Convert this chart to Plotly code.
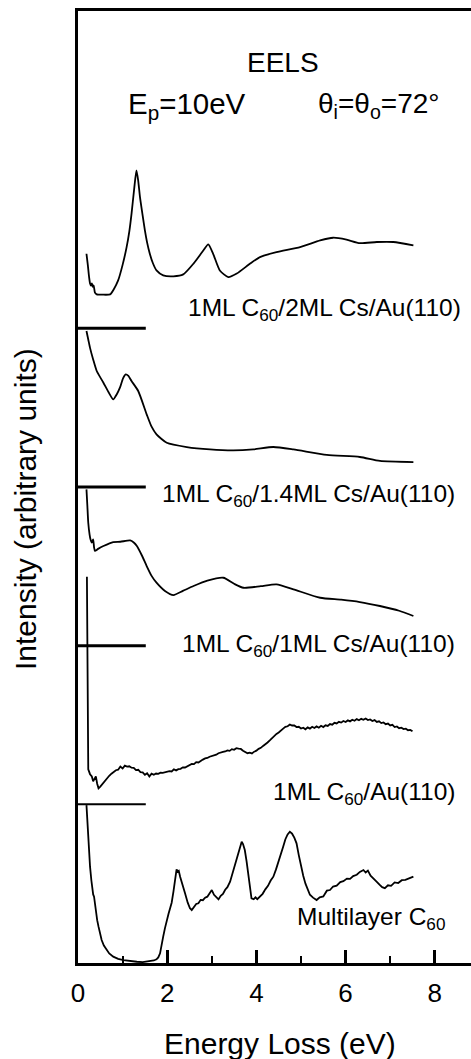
import plotly.graph_objects as go

# ---------------- data ----------------
# Energy loss (eV) and intensity relative to each spectrum's own baseline
# (one baseline step = 1 unit)
e_cs2 = [0.19, 0.22, 0.25, 0.27, 0.29, 0.31, 0.33, 0.35, 0.38, 0.42, 0.55, 0.72, 0.80, 0.90,
         1.00, 1.09, 1.15, 1.20, 1.26, 1.31, 1.35, 1.39, 1.45, 1.50, 1.55, 1.61, 1.68, 1.76,
         1.91, 2.14, 2.36, 2.59, 2.81, 2.92, 3.03, 3.18, 3.37, 3.56, 3.86, 4.08, 4.45, 4.98,
         5.43, 5.72, 6.02, 6.32, 6.70, 7.07, 7.52]
i_cs2 = [0.47, 0.40, 0.32, 0.283, 0.27, 0.283, 0.262, 0.27, 0.225, 0.214, 0.212, 0.214, 0.245, 0.302,
         0.40, 0.512, 0.61, 0.722, 0.88, 0.995, 0.93, 0.827, 0.71, 0.617, 0.54, 0.47, 0.41, 0.365,
         0.334, 0.328, 0.34, 0.408, 0.491, 0.529, 0.47, 0.365, 0.323, 0.345, 0.408, 0.449, 0.48, 0.512,
         0.554, 0.571, 0.559, 0.537, 0.544, 0.544, 0.523]

e_cs14 = [0.19, 0.23, 0.27, 0.34, 0.42, 0.57, 0.70, 0.79, 0.87, 0.94, 1.01, 1.07, 1.13, 1.20,
          1.35, 1.54, 1.65, 1.76, 1.99, 2.44, 2.96, 3.48, 3.93, 4.38, 4.83, 5.58, 6.32, 6.77, 7.52]
i_cs14 = [0.983, 0.93, 0.877, 0.804, 0.731, 0.657, 0.59, 0.552, 0.585, 0.626, 0.685, 0.71, 0.70, 0.668,
          0.605, 0.458, 0.38, 0.332, 0.279, 0.252, 0.237, 0.231, 0.237, 0.252, 0.237, 0.202, 0.189, 0.164, 0.157]

e_cs1 = [0.19, 0.21, 0.23, 0.26, 0.28, 0.31, 0.34, 0.36, 0.38, 0.45, 0.57, 0.79, 0.95, 1.17,
         1.25, 1.32, 1.43, 1.54, 1.65, 1.76, 1.95, 2.14, 2.35, 2.59, 2.90, 3.26, 3.50, 3.71,
         4.10, 4.45, 4.83, 5.43, 5.90, 6.32, 6.77, 7.20, 7.52]
i_cs1 = [0.985, 0.88, 0.775, 0.70, 0.67, 0.649, 0.67, 0.62, 0.597, 0.61, 0.628, 0.653, 0.655, 0.663,
         0.65, 0.628, 0.57, 0.502, 0.44, 0.397, 0.345, 0.319, 0.345, 0.376, 0.41, 0.428, 0.39, 0.365,
         0.375, 0.386, 0.355, 0.302, 0.29, 0.275, 0.25, 0.22, 0.187]

e_au = [0.20, 0.215, 0.23, 0.27, 0.31, 0.34, 0.37, 0.40, 0.43, 0.46,
        0.50, 0.55, 0.60, 0.65, 0.70, 0.75, 0.80, 0.85, 0.90, 0.95, 1.00, 1.05, 1.10, 1.15, 1.20,
        1.25, 1.30, 1.35, 1.40, 1.45, 1.50, 1.55, 1.60, 1.65, 1.70, 1.75, 1.80, 1.85, 1.90, 1.95,
        2.00, 2.05, 2.10, 2.15, 2.20, 2.25, 2.30, 2.35, 2.40, 2.45, 2.50, 2.55, 2.60, 2.65, 2.70,
        2.75, 2.80, 2.85, 2.90, 2.95, 3.00, 3.05, 3.10, 3.15, 3.20, 3.25, 3.30, 3.35, 3.40, 3.45,
        3.50, 3.55, 3.60, 3.65, 3.70, 3.75, 3.80, 3.85, 3.90, 3.95, 4.00, 4.05, 4.10, 4.15, 4.20,
        4.25, 4.30, 4.35, 4.40, 4.45, 4.50, 4.55, 4.60, 4.65, 4.70, 4.75, 4.80, 4.85, 4.90, 4.95,
        5.00, 5.05, 5.10, 5.15, 5.20, 5.25, 5.30, 5.35, 5.40, 5.45, 5.50, 5.55, 5.60, 5.65, 5.70,
        5.75, 5.80, 5.85, 5.90, 5.95, 6.00, 6.05, 6.10, 6.15, 6.20, 6.25, 6.30, 6.35, 6.40, 6.45,
        6.50, 6.55, 6.60, 6.65, 6.70, 6.75, 6.80, 6.85, 6.90, 6.95, 7.00, 7.05, 7.10, 7.15, 7.20,
        7.25, 7.30, 7.35, 7.40, 7.45, 7.50]
i_au = [1.434, 0.80, 0.22, 0.19, 0.176, 0.145, 0.16, 0.176, 0.13, 0.101,
        0.112, 0.131, 0.149, 0.166, 0.180, 0.193, 0.203, 0.215, 0.218, 0.238, 0.226, 0.244, 0.238, 0.240, 0.231,
        0.230, 0.216, 0.218, 0.203, 0.201, 0.186, 0.196, 0.176, 0.193, 0.186, 0.194, 0.192, 0.200, 0.198, 0.203,
        0.204, 0.209, 0.207, 0.220, 0.214, 0.222, 0.224, 0.233, 0.232, 0.240, 0.247, 0.254, 0.253, 0.266, 0.264,
        0.276, 0.282, 0.289, 0.292, 0.300, 0.304, 0.312, 0.313, 0.322, 0.324, 0.330, 0.333, 0.340, 0.337, 0.348,
        0.344, 0.354, 0.351, 0.349, 0.338, 0.332, 0.322, 0.326, 0.321, 0.332, 0.338, 0.350, 0.356, 0.368, 0.377,
        0.390, 0.403, 0.418, 0.428, 0.444, 0.453, 0.468, 0.477, 0.488, 0.492, 0.503, 0.497, 0.497, 0.487, 0.489,
        0.478, 0.483, 0.473, 0.485, 0.477, 0.489, 0.481, 0.491, 0.483, 0.495, 0.487, 0.498, 0.494, 0.506, 0.502,
        0.514, 0.510, 0.520, 0.515, 0.525, 0.519, 0.529, 0.523, 0.533, 0.527, 0.537, 0.530, 0.539, 0.533, 0.541,
        0.531, 0.535, 0.525, 0.531, 0.519, 0.523, 0.512, 0.516, 0.505, 0.509, 0.497, 0.501, 0.487, 0.491, 0.480,
        0.483, 0.474, 0.477, 0.467, 0.469, 0.460]

e_ml = [0.19, 0.21, 0.23, 0.25, 0.27, 0.30, 0.32, 0.33, 0.34, 0.36, 0.38, 0.40, 0.43, 0.46, 0.50,
        0.53, 0.58, 0.64, 0.70, 0.79, 0.90, 1.02, 1.15, 1.32, 1.45, 1.55, 1.61, 1.70, 1.76, 1.80,
        1.84, 1.88, 1.91, 1.95, 1.99, 2.03, 2.07, 2.10, 2.14, 2.18, 2.21, 2.24, 2.26, 2.29, 2.34,
        2.40, 2.46, 2.51, 2.55, 2.60, 2.65, 2.70, 2.75, 2.80, 2.85, 2.90, 2.95, 3.00, 3.05, 3.10,
        3.15, 3.20, 3.25, 3.30, 3.35, 3.41, 3.46, 3.51, 3.56, 3.62, 3.67, 3.70, 3.74, 3.78, 3.82,
        3.86, 3.89, 3.94, 3.98, 4.02, 4.08, 4.14, 4.20, 4.26, 4.32, 4.38, 4.44, 4.50, 4.55, 4.60,
        4.65, 4.70, 4.75, 4.80, 4.85, 4.90, 4.95, 5.00, 5.05, 5.10, 5.13, 5.20, 5.27, 5.35, 5.42,
        5.50, 5.58, 5.65, 5.72, 5.80, 5.88, 5.95, 6.03, 6.10, 6.17, 6.25, 6.32, 6.40, 6.45, 6.50,
        6.56, 6.62, 6.70, 6.76, 6.82, 6.88, 6.95, 7.02, 7.10, 7.18, 7.26, 7.34, 7.42, 7.52]
i_ml = [0.995, 0.88, 0.775, 0.69, 0.607, 0.52, 0.465, 0.45, 0.432, 0.418, 0.37, 0.313, 0.27, 0.229, 0.18,
        0.145, 0.11, 0.082, 0.06, 0.04, 0.026, 0.018, 0.012, 0.008, 0.006, 0.010, 0.008, 0.016, 0.023, 0.035,
        0.061, 0.11, 0.166, 0.22, 0.271, 0.31, 0.35, 0.38, 0.45, 0.55, 0.59, 0.575, 0.58, 0.544, 0.49,
        0.439, 0.38, 0.345, 0.334, 0.352, 0.372, 0.376, 0.398, 0.396, 0.412, 0.418, 0.44, 0.46, 0.43, 0.414,
        0.401, 0.424, 0.436, 0.462, 0.478, 0.512, 0.56, 0.60, 0.649, 0.72, 0.764, 0.75, 0.712, 0.64, 0.565,
        0.48, 0.408, 0.402, 0.414, 0.402, 0.418, 0.436, 0.464, 0.486, 0.52, 0.544, 0.59, 0.65, 0.70, 0.733,
        0.78, 0.81, 0.827, 0.815, 0.79, 0.754, 0.68, 0.61, 0.55, 0.50, 0.481, 0.43, 0.412, 0.397, 0.414,
        0.42, 0.456, 0.46, 0.482, 0.488, 0.51, 0.516, 0.532, 0.53, 0.548, 0.556, 0.574, 0.586, 0.57, 0.582,
        0.55, 0.536, 0.512, 0.494, 0.478, 0.472, 0.49, 0.486, 0.508, 0.504, 0.522, 0.524, 0.534, 0.544]

offsets = [4, 3, 2, 1, 0]
labels = ["1ML C<sub>60</sub>/2ML Cs/Au(110)",
          "1ML C<sub>60</sub>/1.4ML Cs/Au(110)",
          "1ML C<sub>60</sub>/1ML Cs/Au(110)",
          "1ML C<sub>60</sub>/Au(110)",
          "Multilayer C<sub>60</sub>"]
baseline_levels = [4, 3, 2, 1]
baseline_end = 1.52

x_tickvals = [0, 2, 4, 6, 8]

# ---------------- figure ----------------
W, H = 471, 1059
ML, MR, MT, MB = 78, 0, 11, 96
PH = H - MT - MB
FONT = "Liberation Sans, Arial, sans-serif"

def py2paper(py):
    return (H - MB - py) / PH

def px2paper(px):
    return (px - ML) / (W - ML - MR)

fig = go.Figure()
spectra = [(e_cs2, i_cs2, "spline"), (e_cs14, i_cs14, "spline"), (e_cs1, i_cs1, "spline"),
           (e_au, i_au, "linear"), (e_ml, i_ml, "linear")]
for (ex, iy, shape), off in zip(spectra, offsets):
    fig.add_trace(go.Scatter(x=ex, y=[v + off for v in iy], mode="lines",
                             line=dict(color="black", width=1.8, shape=shape,
                                       smoothing=0.6 if shape == "spline" else None),
                             showlegend=False, hoverinfo="skip"))

for k, lvl in enumerate(baseline_levels):
    fig.add_shape(type="line", xref="x", yref="y", x0=0, x1=baseline_end, y0=lvl, y1=lvl,
                  line=dict(color="black", width=3 if k < 3 else 2))

# spectrum labels (right edge px, cap-centre py)
label_pos = [(463, 309), (457, 496), (457, 645), (458, 793), (447, 918)]
for txt, (px, py) in zip(labels, label_pos):
    fig.add_annotation(text=txt, xref="paper", yref="paper", x=px2paper(px), y=py2paper(py),
                       xanchor="right", yanchor="middle", showarrow=False,
                       font=dict(family=FONT, size=24.5, color="black"))

# header text
fig.add_annotation(text="EELS", xref="paper", yref="paper", x=px2paper(283), y=py2paper(62),
                   xanchor="center", yanchor="middle", showarrow=False,
                   font=dict(family=FONT, size=28, color="black"))
fig.add_annotation(text="E<sub>p</sub>=10eV", xref="paper", yref="paper", x=px2paper(187), y=py2paper(106),
                   xanchor="center", yanchor="middle", showarrow=False,
                   font=dict(family=FONT, size=29.5, color="black"))
fig.add_annotation(text="\u03b8<sub>i</sub>=\u03b8<sub>o</sub>=72\u00b0", xref="paper", yref="paper",
                   x=px2paper(378), y=py2paper(106),
                   xanchor="center", yanchor="middle", showarrow=False,
                   font=dict(family=FONT, size=28, color="black"))

# axis titles
fig.add_annotation(text="Energy Loss (eV)", xref="paper", yref="paper", x=px2paper(280), y=py2paper(1043),
                   xanchor="center", yanchor="middle", showarrow=False,
                   font=dict(family=FONT, size=30, color="black"))
fig.add_annotation(text="Intensity (arbitrary units)", xref="paper", yref="paper", x=px2paper(26),
                   y=py2paper(509), xanchor="center", yanchor="middle", textangle=-90, showarrow=False,
                   font=dict(family=FONT, size=30, color="black"))

fig.update_xaxes(range=[0, (W - ML - MR) / 44.6], showline=True, linewidth=3, linecolor="black",
                 mirror=True, showgrid=False, zeroline=False,
                 ticks="inside", ticklen=13, tickwidth=2.5, tickcolor="black",
                 tickvals=x_tickvals, ticktext=[str(v) for v in x_tickvals],
                 ticklabelstandoff=5,
                 tickfont=dict(family=FONT, size=26, color="black"),
                 minor=dict(ticks="inside", ticklen=7, tickwidth=2, tickcolor="black", dtick=1, showgrid=False))
fig.update_yaxes(range=[0, 6], showline=True, linewidth=3, linecolor="black", showgrid=False,
                 zeroline=False, showticklabels=False, ticks="")

fig.update_layout(width=W, height=H, margin=dict(l=ML, r=MR, t=MT, b=MB),
                  paper_bgcolor="white", plot_bgcolor="white", showlegend=False)

fig.write_html("out.html", config={"displayModeBar": False})

# remove the browser's default page margin so the figure sits at the window origin
with open("out.html", "r", encoding="utf-8") as f:
    html = f.read()
html = html.replace("<head>", "<head><style>html,body{margin:0;padding:0;overflow:hidden;}</style>", 1)
with open("out.html", "w", encoding="utf-8") as f:
    f.write(html)
